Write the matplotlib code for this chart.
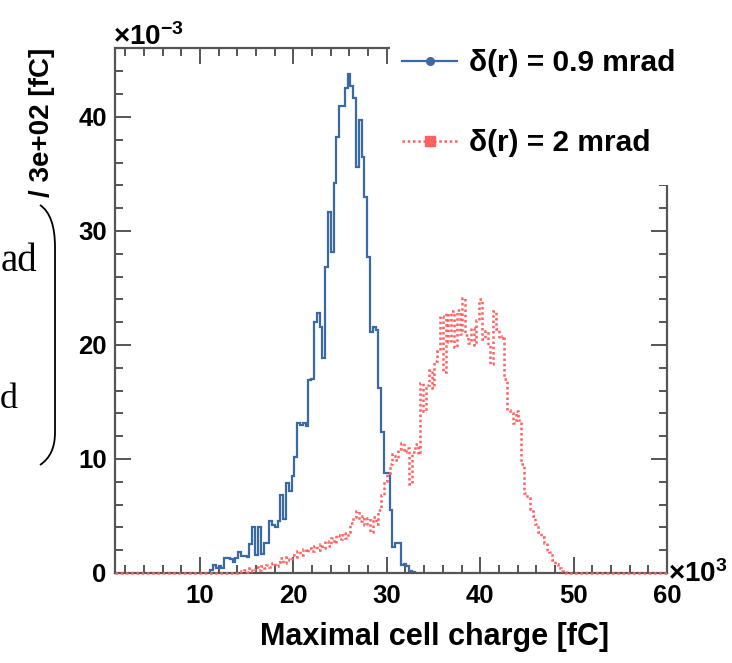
import numpy as np
import matplotlib.pyplot as plt
from matplotlib.lines import Line2D
from matplotlib.patches import Rectangle, PathPatch
from matplotlib.path import Path

plt.rcParams['font.family'] = ['Liberation Sans', 'DejaVu Sans']
plt.rcParams['font.weight'] = 'bold'
plt.rcParams['mathtext.fontset'] = 'custom'
plt.rcParams['mathtext.rm'] = 'Liberation Sans'
plt.rcParams['mathtext.bf'] = 'Liberation Sans:bold'

# histogram binning (x in units of 10^3 fC, bin width 300 fC)
bin_width = 0.3
x_min, x_max = 0.9, 60.0

# delta(r) = 0.9 mrad, entries (x 10^-3) from first edge onwards
blue_first_edge = 11.1
blue_vals = [0.3, 0.7, 0.4, 0.6, 0.4, 1.3, 1.3, 1.2, 1.0, 1.3,
             1.8, 1.5, 1.5, 1.4, 2.5, 4.0, 1.6, 4.0, 1.7, 2.6,
             2.6, 4.6, 4.2, 4.0, 4.6, 6.8, 4.7, 7.9, 7.2, 8.5,
             10.2, 13.2, 13.0, 13.2, 12.9, 16.9, 17.0, 22.0, 22.8, 21.6,
             18.9, 26.8, 31.7, 28.2, 34.2, 38.2, 41.0, 41.0, 42.5, 43.8,
             42.7, 41.7, 35.6, 39.7, 36.5, 33.0, 27.7, 21.1, 21.6, 21.3,
             16.2, 12.4, 8.8, 8.8, 5.5, 2.3, 2.6, 2.6, 0.7, 0.8,
             0.6, 0.2, 0.1]

# delta(r) = 2 mrad
red_first_edge = 14.4
red_vals = [0.2, 0.3, 0.1, 0.4, 0.2, 0.5, 0.3, 0.6, 0.4, 0.7,
            0.5, 0.9, 0.6, 1.0, 1.3, 0.9, 1.4, 1.1, 1.6, 1.4,
            1.9, 1.6, 2.1, 1.8, 2.2, 1.9, 2.4, 2.0, 2.5, 2.2,
            2.8, 2.4, 3.1, 2.6, 3.3, 3.0, 3.5, 3.1, 3.6, 4.4,
            4.9, 5.4, 4.6, 5.0, 4.2, 4.8, 3.6, 4.9, 4.3, 5.5,
            6.8, 8.1, 8.8, 9.6, 10.4, 9.9, 10.9, 11.4, 10.6, 11.0,
            7.8, 10.6, 11.3, 10.4, 16.7, 14.2, 16.5, 17.8, 16.2, 18.6,
            19.5, 22.5, 17.6, 22.8, 20.3, 23.0, 19.8, 23.1, 21.0, 24.1,
            20.9, 20.2, 21.5, 20.0, 22.2, 24.0, 20.5, 21.2, 20.0, 18.3,
            23.0, 21.4, 20.6, 20.8, 17.0, 14.3, 14.0, 13.2, 14.2, 13.4,
            9.6, 7.0, 6.6, 5.6, 5.0, 4.3, 3.6, 3.2, 2.6, 1.9,
            1.8, 1.1, 0.8, 0.4, 0.2, 0.1, 0.0]

labels = ['δ(r) = 0.9 mrad', 'δ(r) = 2 mrad']
blue = '#3a6aa3'
red = '#ff6060'
frame = '#555555'

W, H = 732, 663
def fx(px):
    return px / W
def fy(py):
    return 1 - py / H

fig = plt.figure(figsize=(W / 100, H / 100), dpi=100)
ax = fig.add_axes([fx(115), fy(573), (667 - 115) / W, (573 - 48) / H])

# red spans the whole axis (zeros outside the filled bins)
n_bins = int(round((x_max - x_min) / bin_width))
edges = x_min + bin_width * np.arange(n_bins + 1)
red_all = np.zeros(n_bins)
i0 = int(round((red_first_edge - x_min) / bin_width))
red_all[i0:i0 + len(red_vals)] = red_vals
ax.stairs(red_all, edges, color=red, lw=1.8, linestyle=(0, (1, 1.1)), zorder=3, clip_on=False)

j0 = int(round((blue_first_edge - x_min) / bin_width))
ax.stairs(blue_vals, edges[j0:j0 + len(blue_vals) + 1], baseline=0, color=blue, lw=1.6, zorder=2)

ax.set_xlim(x_min, x_max)
ax.set_ylim(0, 46.05)
ax.set_xticks(np.arange(10, 61, 10))
ax.set_xticks(np.arange(2, 60, 2), minor=True)
ax.set_yticks(np.arange(0, 41, 10))
ax.set_yticks(np.arange(2, 46, 2), minor=True)
ax.tick_params(which='both', direction='in', top=True, right=True, color=frame, width=1.4,
               labelsize=18.5)
ax.tick_params(which='major', length=11.5)
ax.tick_params(which='minor', length=6)
ax.tick_params(axis='x', pad=8)
ax.tick_params(axis='y', pad=6)
for sp in ax.spines.values():
    sp.set_color(frame)
    sp.set_linewidth(1.6)

ax.set_xlabel('Maximal cell charge [fC]', fontsize=22, fontweight='bold')
ax.xaxis.set_label_coords((435 - 115) / 552, -(637 - 573) / 525)
ax.xaxis.label.set_va('center')
fig.text(fx(42), fy(48), '/ 3e+02 [fC]', rotation=90, fontsize=20, ha='center', va='top')

fig.text(fx(113), fy(45), r'$\times\mathbf{10^{-3}}$', fontsize=20, ha='left', va='baseline')
fig.text(fx(668), fy(582), r'$\times\mathbf{10^{3}}$', fontsize=20, ha='left', va='baseline')

# white legend box covering the top-right frame corner
fig.add_artist(Rectangle((fx(390), fy(185)), 1 - fx(390), 1 - fy(185), transform=fig.transFigure,
                         facecolor='white', edgecolor='none', zorder=5))
handles = [Line2D([], [], color=blue, lw=1.6, marker='o', ms=5.5),
           Line2D([], [], color=red, lw=1.8, linestyle=(0, (1, 1.1)), marker='s', ms=6.5)]
leg = fig.legend(handles, labels, loc='upper left', bbox_to_anchor=(fx(402), fy(49)),
                 frameon=False, fontsize=21.5, handlelength=1.85, handletextpad=0.38,
                 labelspacing=1.75, borderpad=0, borderaxespad=0)
leg.set_zorder(6)

# leftover overlay: brace and clipped serif text
verts = [(fx(40), fy(205)), (fx(55), fy(215)), (fx(55), fy(247)), (fx(55), fy(247)),
         (fx(55), fy(433)), (fx(55), fy(433)), (fx(55), fy(455)), (fx(40), fy(465))]
codes = [Path.MOVETO, Path.CURVE3, Path.CURVE3, Path.LINETO,
         Path.LINETO, Path.LINETO, Path.CURVE3, Path.CURVE3]
fig.add_artist(PathPatch(Path(verts, codes), transform=fig.transFigure, facecolor='none',
                         edgecolor='black', lw=1.3))
fig.text(fx(37), fy(262), 'ad', family='Liberation Serif', fontweight='normal', fontsize=28,
         ha='right', va='center')
fig.text(fx(18), fy(400), 'd', family='Liberation Serif', fontweight='normal', fontsize=26,
         ha='right', va='center')

fig.savefig('out.png', dpi=100)
